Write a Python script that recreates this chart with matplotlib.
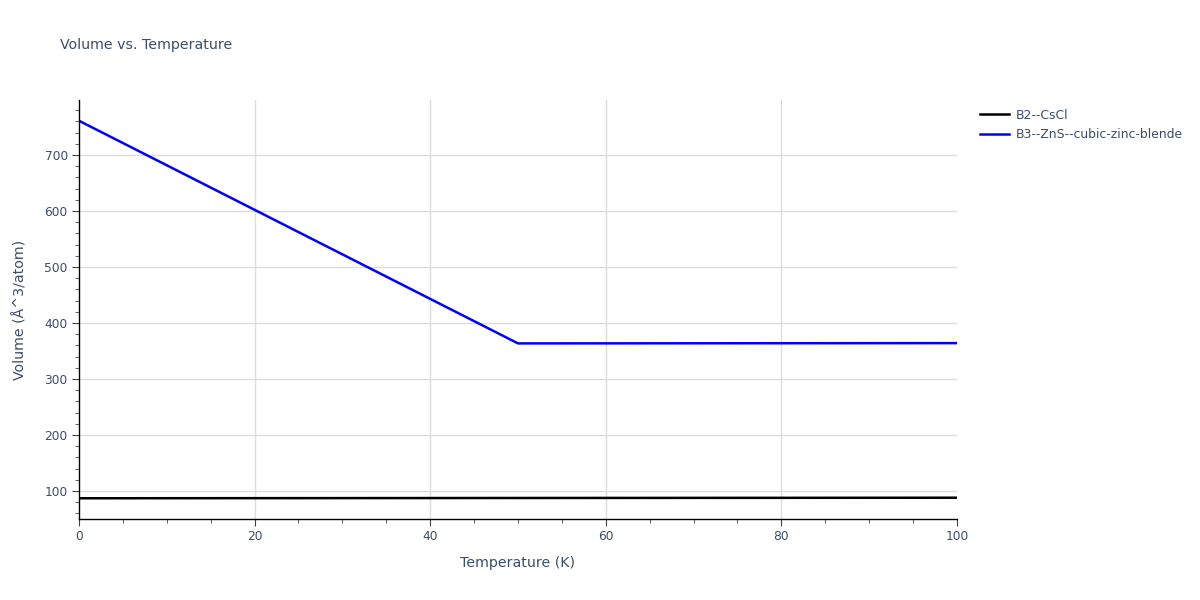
import numpy as np
import matplotlib.pyplot as plt
from matplotlib.ticker import MultipleLocator

plt.rcParams['font.family'] = ['DejaVu Sans']

textColor = '#3b4d6b'

temps = [0, 10, 20, 30, 40, 50, 60, 70, 80, 90, 100]
volB2 = [87.0, 87.1, 87.2, 87.3, 87.4, 87.5, 87.6, 87.7, 87.8, 87.9, 88.0]
volB3 = [761.0, 681.5, 602.0, 522.5, 443.0, 363.5, 363.6, 363.7, 363.8, 363.9, 364.0]
seriesNames = ['B2--CsCl', 'B3--ZnS--cubic-zinc-blende']
seriesColors = ['black', 'blue']

fig = plt.figure(figsize=(12, 6), dpi=100)
ax = fig.add_axes([0.0658, 0.135, 0.7317, 0.6983])

for vols, name, color in zip([volB2, volB3], seriesNames, seriesColors):
    ax.plot(temps, vols, color=color, lw=1.8, label=name)

ax.set_xlim(0, 100)
ax.set_ylim(50, 798)
ax.xaxis.set_major_locator(MultipleLocator(20))
ax.xaxis.set_minor_locator(MultipleLocator(5))
ax.yaxis.set_minor_locator(MultipleLocator(20))
ax.set_yticks([100, 200, 300, 400, 500, 600, 700])

# gridlines drawn by hand so the edges stay clear
for gx in [20, 40, 60, 80]:
    ax.axvline(gx, color='#dddddd', lw=1, zorder=0)
for gy in [100, 200, 300, 400, 500, 600, 700]:
    ax.axhline(gy, color='#dddddd', lw=1, zorder=0)

for side in ['top', 'right']:
    ax.spines[side].set_visible(False)
for side in ['left', 'bottom']:
    ax.spines[side].set_color('black')
    ax.spines[side].set_linewidth(1)

ax.tick_params(which='major', direction='out', length=5, color='#444444',
               labelsize=8.8, labelcolor=textColor, pad=3)
ax.tick_params(which='minor', direction='out', length=3, color='#444444')

ax.set_xlabel('Temperature (K)', fontsize=10.2, color=textColor, labelpad=9)
ax.set_ylabel('Volume (Å^3/atom)', fontsize=10.2, color=textColor, labelpad=12)
fig.text(0.05, 0.925, 'Volume vs. Temperature', fontsize=10.2, color=textColor, va='center')

leg = ax.legend(loc='upper left', bbox_to_anchor=(1.016, 1.0), frameon=False,
                fontsize=8.9, handlelength=2.4, handletextpad=0.5, labelspacing=0.55,
                borderaxespad=0.3)
for t in leg.get_texts():
    t.set_color(textColor)

fig.savefig('out.png', dpi=100, facecolor='white')
